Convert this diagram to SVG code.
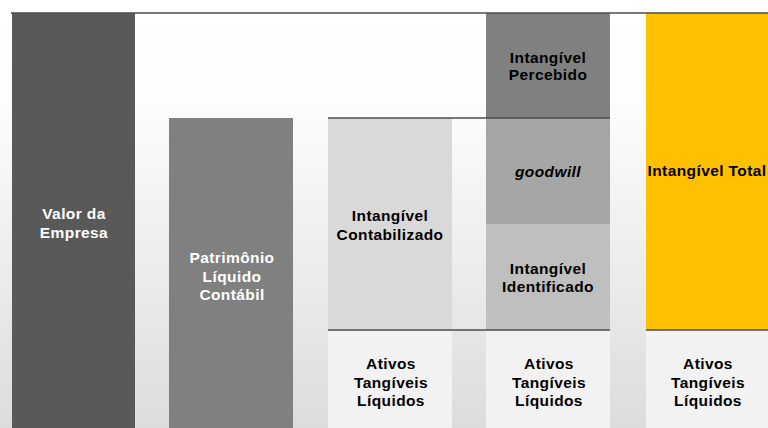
<svg xmlns="http://www.w3.org/2000/svg" width="768" height="428" viewBox="0 0 768 428">
  <defs>
    <linearGradient id="bg" x1="0" y1="0" x2="0" y2="1">
      <stop offset="0" stop-color="#ffffff"/>
      <stop offset="0.25" stop-color="#fcfcfc"/>
      <stop offset="1" stop-color="#dcdcdc"/>
    </linearGradient>
  </defs>
  <style>
    text { font-family: "Liberation Sans", Arial, sans-serif; font-size: 15.5px; font-weight: bold; text-anchor: middle; letter-spacing: 0.4px; }
    .w { fill: #ffffff; }
    .k { fill: #000000; }
    .it { font-style: italic; }
    .rule { stroke: #4d4d4d; stroke-width: 1.6; fill: none; }
  </style>
  <rect x="0" y="0" width="768" height="428" fill="url(#bg)"/>

  <g id="valor-empresa">
    <rect x="12" y="13" width="123" height="415" fill="#595959"/>
    <text class="w" x="74" y="219">Valor da</text>
    <text class="w" x="74" y="237.5">Empresa</text>
  </g>

  <g id="patrimonio-liquido">
    <rect x="169" y="118" width="124" height="310" fill="#808080"/>
    <text class="w" x="232" y="263">Patrimônio</text>
    <text class="w" x="232" y="281.5">Líquido</text>
    <text class="w" x="232" y="300">Contábil</text>
  </g>

  <g id="intangivel-contabilizado">
    <rect x="328" y="118" width="124" height="212" fill="#d9d9d9"/>
    <text class="k" x="390" y="221">Intangível</text>
    <text class="k" x="390" y="239.5">Contabilizado</text>
  </g>

  <g id="ativos-1">
    <rect x="328" y="330" width="124" height="98" fill="#f2f2f2"/>
    <text class="k" x="391" y="369">Ativos</text>
    <text class="k" x="391" y="387.5">Tangíveis</text>
    <text class="k" x="391" y="405.5">Líquidos</text>
  </g>

  <g id="intangivel-percebido">
    <rect x="486" y="13" width="124" height="105" fill="#808080"/>
    <text class="k" x="548" y="63">Intangível</text>
    <text class="k" x="548" y="80">Percebido</text>
  </g>

  <g id="goodwill">
    <rect x="486" y="118" width="124" height="106" fill="#a6a6a6"/>
    <text class="k it" x="548" y="176.5">goodwill</text>
  </g>

  <g id="intangivel-identificado">
    <rect x="486" y="224" width="124" height="106" fill="#bfbfbf"/>
    <text class="k" x="548" y="273.5">Intangível</text>
    <text class="k" x="548" y="292">Identificado</text>
  </g>

  <g id="ativos-2">
    <rect x="486" y="330" width="124" height="98" fill="#f2f2f2"/>
    <text class="k" x="549" y="369">Ativos</text>
    <text class="k" x="549" y="387.5">Tangíveis</text>
    <text class="k" x="549" y="405.5">Líquidos</text>
  </g>

  <g id="intangivel-total">
    <rect x="646" y="13" width="122" height="317" fill="#ffc000"/>
    <text class="k" x="707" y="176">Intangível Total</text>
  </g>

  <g id="ativos-3">
    <rect x="646" y="330" width="122" height="98" fill="#f2f2f2"/>
    <text class="k" x="708" y="369">Ativos</text>
    <text class="k" x="708" y="387.5">Tangíveis</text>
    <text class="k" x="708" y="405.5">Líquidos</text>
  </g>

  <g id="connectors">
    <line class="rule" x1="11" y1="13" x2="768" y2="13"/>
    <line class="rule" x1="328" y1="118" x2="610" y2="118"/>
    <line class="rule" x1="328" y1="330" x2="610" y2="330"/>
    <line class="rule" x1="646" y1="330" x2="768" y2="330"/>
  </g>
</svg>
